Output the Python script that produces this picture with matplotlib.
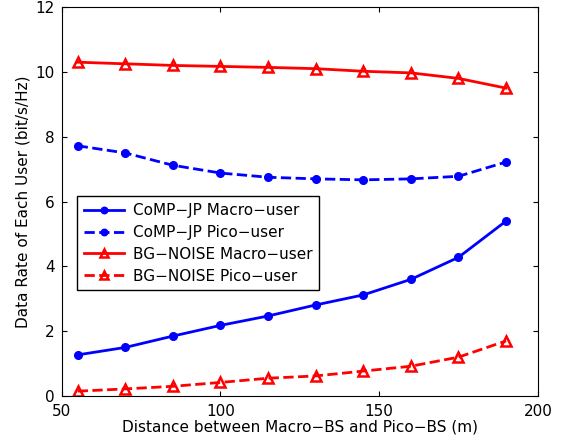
import matplotlib.pyplot as plt

distance = [55, 70, 85, 100, 115, 130, 145, 160, 175, 190]
comp_macro = [1.27, 1.5, 1.85, 2.18, 2.47, 2.81, 3.12, 3.6, 4.28, 5.4]
comp_pico = [7.72, 7.5, 7.12, 6.88, 6.75, 6.7, 6.67, 6.7, 6.78, 7.22]
bg_macro = [10.3, 10.25, 10.2, 10.17, 10.14, 10.1, 10.02, 9.97, 9.8, 9.5]
bg_pico = [0.15, 0.22, 0.3, 0.42, 0.55, 0.62, 0.77, 0.92, 1.2, 1.7]

fig = plt.figure(figsize=(5.62, 4.43), dpi=100)
ax = fig.add_axes([0.11, 0.106, 0.847, 0.878])

ax.plot(distance, comp_macro, '-', color='blue', lw=2, marker='o', ms=5.5,
        label='CoMP\u2212JP Macro\u2212user')
ax.plot(distance, comp_pico, '--', color='blue', lw=2, marker='o', ms=5.5,
        label='CoMP\u2212JP Pico\u2212user')
ax.plot(distance, bg_macro, '-', color='red', lw=2, marker='^', ms=7.5, mfc='none', mew=1.8,
        label='BG\u2212NOISE Macro\u2212user')
ax.plot(distance, bg_pico, '--', color='red', lw=2, marker='^', ms=7.5, mfc='none', mew=1.8,
        label='BG\u2212NOISE Pico\u2212user')

ax.set_xlim(50, 200)
ax.set_ylim(0, 12)
ax.set_xticks([50, 100, 150, 200])
ax.set_yticks([0, 2, 4, 6, 8, 10, 12])
ax.tick_params(direction='in', top=True, right=True, labelsize=11)
ax.tick_params(axis='x', pad=6)
ax.tick_params(axis='y', pad=5)
ax.set_xlabel('Distance between Macro\u2212BS and Pico\u2212BS (m)', fontsize=11, labelpad=0)
ax.set_ylabel('Data Rate of Each User (bit/s/Hz)', fontsize=11)

leg = ax.legend(loc='upper left', bbox_to_anchor=(0.032, 0.514), borderaxespad=0,
                fontsize=11, fancybox=False, edgecolor='black', framealpha=1,
                handlelength=2.6, handletextpad=0.6, borderpad=0.45, labelspacing=0.45,
                markerscale=0.85)
leg.get_frame().set_linewidth(1)

fig.savefig('out.png', dpi=100)
